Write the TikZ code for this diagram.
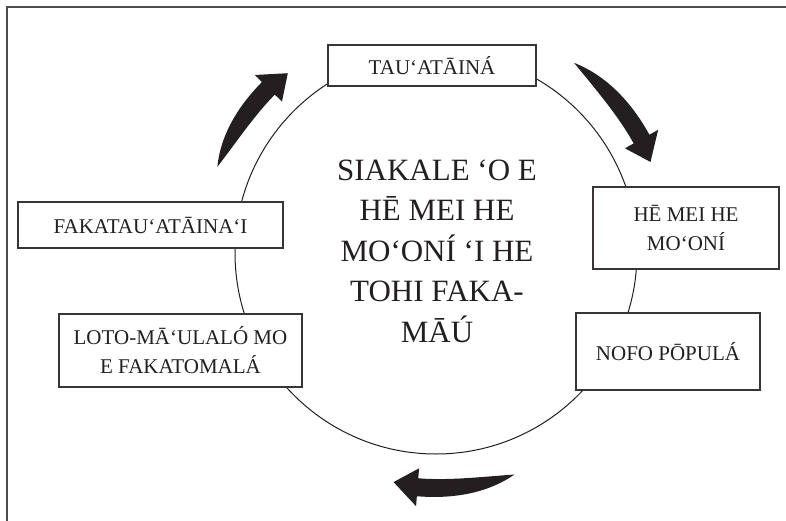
\documentclass[tikz,border=0pt]{standalone}
\usepackage{fontspec}
\setmainfont{Liberation Serif}
\definecolor{ink}{HTML}{231F20}
\newcommand{\cyclearrow}[2]{%
  \pgfmathsetmacro\neckang{#2+6}%
  \fill[bigarrow] plot[domain=#1:\neckang, samples=40, smooth] (\x:{235+9*(1-((\x-\neckang)/(#1-\neckang))^3)})
    -- (\neckang:254) -- (#2:233) -- (\neckang:216)
    -- plot[domain=\neckang:#1, samples=40, smooth] (\x:{235-9*(1-((\x-\neckang)/(#1-\neckang))^3)}) -- cycle;}
\begin{document}
\begin{tikzpicture}[x=1pt,y=-1pt,
  box/.style={draw=ink!90, line width=1.3pt, fill=white, inner sep=0pt, align=center,
    text=ink, font=\fontsize{21}{29}\selectfont},
  ring/.style={draw=ink, line width=1pt},
  frame/.style={draw=ink!80, line width=1.5pt},
  bigarrow/.style={fill=ink}]
\useasboundingbox (0,0) rectangle (786,521);
\coordinate (fTL) at (7,7);
\coordinate (fTR) at (786,7);
\coordinate (fBL) at (7,521);
\draw[frame] (fTR) -- (fTL) -- (fBL);
\coordinate (c) at (436,253);
\draw[ring] (c) circle[radius=201pt];
\node[box, minimum width=208pt, minimum height=41pt] (tau) at (432,65.5) {TAU‘ATĀINÁ};
\node[box, minimum width=186pt, minimum height=82pt] (hemei) at (686,228) {HĒ MEI HE\\MO‘ONÍ};
\node[box, minimum width=184pt, minimum height=77pt] (nofo) at (668,351.5) {NOFO PŌPULÁ};
\node[box, minimum width=243pt, minimum height=73pt] (loto) at (180.5,350.5) {LOTO-MĀ‘ULALÓ MO\\E FAKATOMALÁ};
\node[box, minimum width=265pt, minimum height=46pt] (faka) at (150.5,225) {FAKATAU‘ATĀINA‘I};
\node[inner sep=0pt, align=center, text=ink, font=\fontsize{31}{40.5}\selectfont] (centre) at (437,251)
  {SIAKALE ‘O E\\HĒ MEI HE\\MO‘ONÍ ‘I HE\\TOHI FAKA-\\MĀÚ};
\begin{scope}[shift={(c)}, yscale=-1]
  \cyclearrow{158.5}{129.5}
  \cyclearrow{54}{23}
  \cyclearrow{-70.5}{-100.5}
\end{scope}
\end{tikzpicture}
\end{document}
